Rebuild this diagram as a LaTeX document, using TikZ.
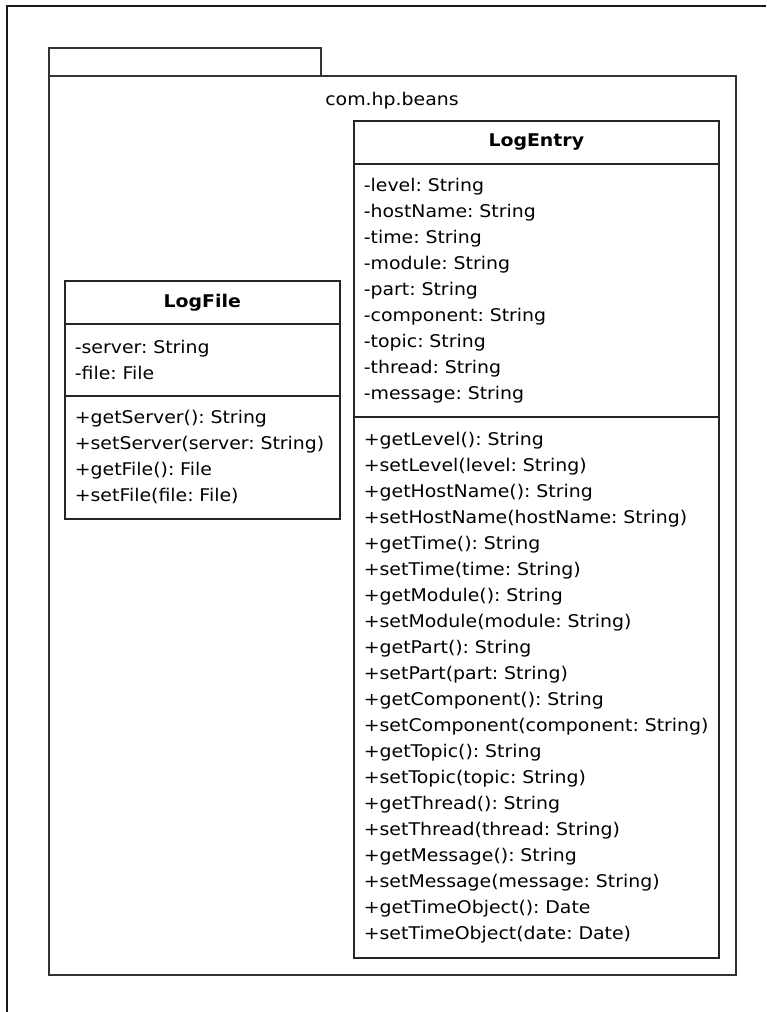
\documentclass[tikz,border=0pt]{standalone}
\usepackage{fontspec}
\setmainfont{DejaVu Sans}[FakeStretch=1.08]
\frenchspacing
\begin{document}
\begin{tikzpicture}[x=1pt,y=-1pt,
  frameline/.style={line width=1.6pt, draw=black!90},
  pkgline/.style={line width=1.6pt, draw=black!80},
  umlfont/.style={font=\fontsize{17.5}{26}\selectfont},
  classname/.style={draw=black!85, line width=1.6pt, anchor=north west,
    inner sep=0pt, font=\bfseries\fontsize{17.5}{26}\selectfont},
  compart/.style={draw=black!85, line width=1.6pt, anchor=north west,
    inner xsep=10pt, inner ysep=0pt, align=left, umlfont}
]
\useasboundingbox (0,0) rectangle (766,1012);

% outer frame (left and top edges)
\draw[frameline] (7,1012) -- (7,6) -- (766,6);

% package com.hp.beans
\draw[pkgline] (49,76) -- (49,48) -- (321,48) -- (321,76);
\draw[pkgline] (49,76) rectangle (736,975);
\node[umlfont, inner sep=0pt] (pkg) at (392,101) {com.hp.beans};

% class LogEntry
\node[classname, minimum width=365pt, minimum height=43pt] (le-name) at (353,120) {LogEntry};
\node[compart, text width=345pt, minimum height=253pt] (le-attr) at (353,163) {%
-level: String\\
-hostName: String\\
-time: String\\
-module: String\\
-part: String\\
-component: String\\
-topic: String\\
-thread: String\\
-message: String};
\node[compart, text width=345pt, minimum height=541pt] (le-ops) at (353,416) {%
+getLevel(): String\\
+setLevel(level: String)\\
+getHostName(): String\\
+setHostName(hostName: String)\\
+getTime(): String\\
+setTime(time: String)\\
+getModule(): String\\
+setModule(module: String)\\
+getPart(): String\\
+setPart(part: String)\\
+getComponent(): String\\
+setComponent(component: String)\\
+getTopic(): String\\
+setTopic(topic: String)\\
+getThread(): String\\
+setThread(thread: String)\\
+getMessage(): String\\
+setMessage(message: String)\\
+getTimeObject(): Date\\
+setTimeObject(date: Date)};

% class LogFile
\node[classname, minimum width=275pt, minimum height=43pt] (lf-name) at (64,280) {LogFile};
\node[compart, text width=255pt, minimum height=72pt] (lf-attr) at (64,323) {%
-server: String\\
-file: File};
\node[compart, text width=255pt, minimum height=123pt] (lf-ops) at (64,395) {%
+getServer(): String\\
+setServer(server: String)\\
+getFile(): File\\
+setFile(file: File)};
\end{tikzpicture}
\end{document}
